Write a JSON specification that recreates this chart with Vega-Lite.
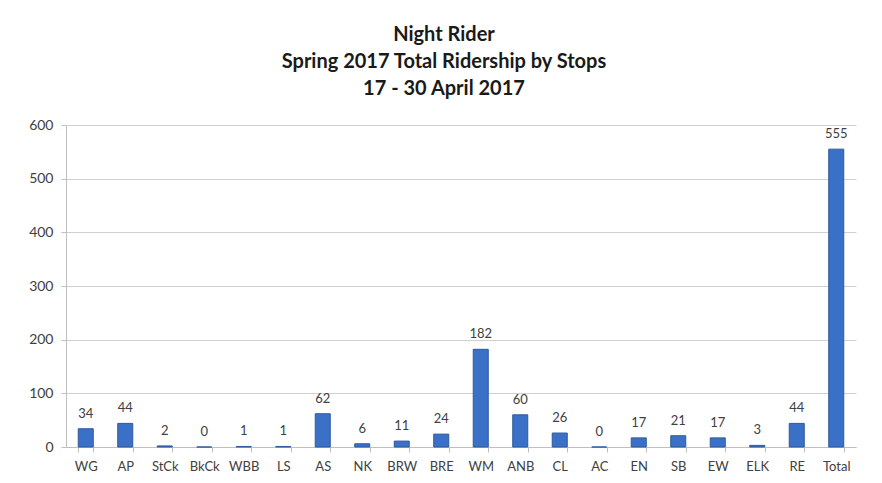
{
  "$schema": "https://vega.github.io/schema/vega-lite/v6.json",
  "width": 790,
  "height": 322,
  "autosize": "none",
  "padding": {"left": 66, "top": 125, "right": 26, "bottom": 36},
  "background": "white",
  "title": {
    "text": ["Night Rider", "Spring 2017 Total Ridership by Stops", "17 - 30 April 2017"],
    "font": "Lato",
    "fontSize": 20,
    "fontWeight": "bold",
    "color": "#1a1a1a",
    "lineHeight": 27,
    "anchor": "middle",
    "dx": -17,
    "offset": 19
  },
  "data": {
    "values": [
      {"stop": "WG", "riders": 34},
      {"stop": "AP", "riders": 44},
      {"stop": "StCk", "riders": 2},
      {"stop": "BkCk", "riders": 0},
      {"stop": "WBB", "riders": 1},
      {"stop": "LS", "riders": 1},
      {"stop": "AS", "riders": 62},
      {"stop": "NK", "riders": 6},
      {"stop": "BRW", "riders": 11},
      {"stop": "BRE", "riders": 24},
      {"stop": "WM", "riders": 182},
      {"stop": "ANB", "riders": 60},
      {"stop": "CL", "riders": 26},
      {"stop": "AC", "riders": 0},
      {"stop": "EN", "riders": 17},
      {"stop": "SB", "riders": 21},
      {"stop": "EW", "riders": 17},
      {"stop": "ELK", "riders": 3},
      {"stop": "RE", "riders": 44},
      {"stop": "Total", "riders": 555}
    ]
  },
  "encoding": {
    "x": {
      "field": "stop",
      "type": "nominal",
      "sort": null,
      "scale": {"paddingInner": 0.62, "paddingOuter": 0.31},
      "axis": {
        "title": null,
        "labelAngle": 0,
        "labelFont": "Lato",
        "labelFontSize": 13,
        "labelColor": "#404040",
        "labelPadding": 8,
        "domainColor": "#bfbfbf",
        "tickColor": "#bfbfbf",
        "tickBand": "extent",
        "tickSize": 5
      }
    },
    "y": {
      "field": "riders",
      "type": "quantitative",
      "scale": {"domain": [0, 600], "nice": false},
      "axis": {
        "title": null,
        "values": [0, 100, 200, 300, 400, 500, 600],
        "labelFont": "Lato",
        "labelFontSize": 14,
        "labelColor": "#404040",
        "labelPadding": 8,
        "domain": true,
        "domainColor": "#bfbfbf",
        "tickColor": "#bfbfbf",
        "tickSize": 5,
        "gridColor": "#d0d0d0"
      }
    }
  },
  "layer": [
    {
      "mark": {"type": "bar", "color": "#3a70c6", "stroke": "#2d5a9e", "strokeWidth": 1}
    },
    {
      "mark": {"type": "text", "baseline": "bottom", "dy": -8, "font": "Lato", "fontSize": 13, "color": "#404040"},
      "encoding": {"text": {"field": "riders", "type": "quantitative"}}
    }
  ],
  "config": {"view": {"stroke": null}}
}
